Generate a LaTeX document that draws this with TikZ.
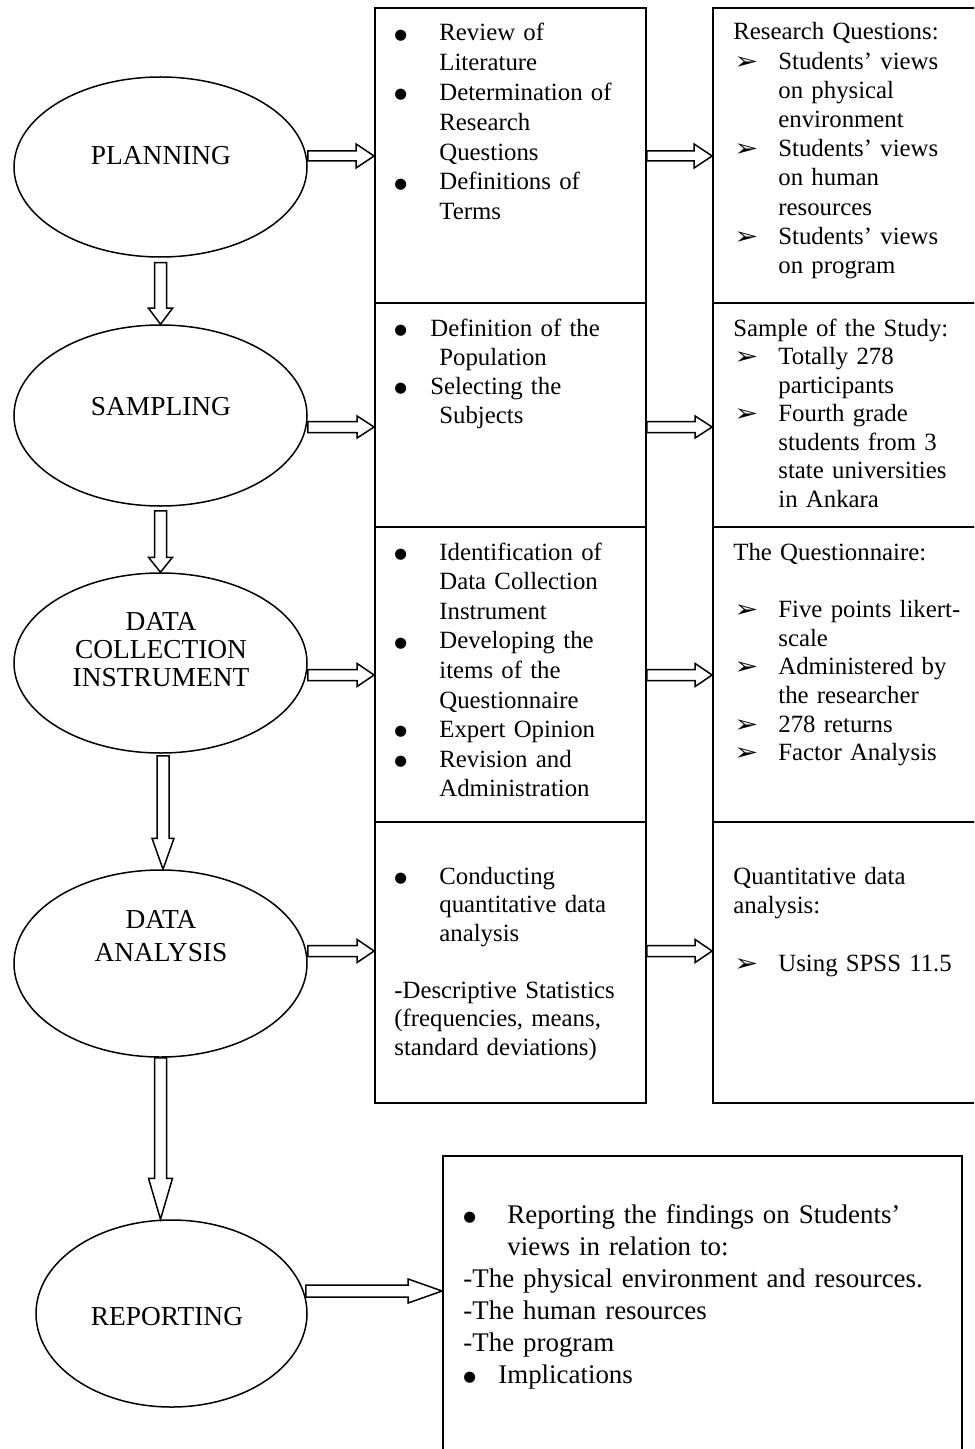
\documentclass[tikz,border=0pt]{standalone}
\usepackage{fontspec}
\setmainfont{Liberation Serif}
\newfontfamily\djv{DejaVu Sans}
\usetikzlibrary{shapes.geometric,calc,fit}
\newcommand\bigdot{\raisebox{0.9pt}{\djv\fontsize{7.3pt}{7.3pt}\selectfont ●}}
\newcommand\mybul[1][22.5pt]{\makebox[#1][l]{\bigdot}}
\newcommand\myind[1][22.5pt]{\hspace*{#1}}
\newcommand\myarr{\makebox[22.5pt][l]{\hspace{0.5pt}\scalebox{1.2}[1]{\djv\fontsize{12pt}{12pt}\selectfont ➢}}}
% vertical hollow block arrow: start, tip, head length, shaft half width, head half width
\newcommand\varrow[5]{\draw[blk] ($(#1)+(-#4,0)$) -- ($(#2)+(-#4,-#3)$) -- ($(#2)+(-#5,-#3)$) -- (#2) -- ($(#2)+(#5,-#3)$) -- ($(#2)+(#4,-#3)$) -- ($(#1)+(#4,0)$) -- cycle;}
% horizontal hollow block arrow
\newcommand\harrow[5]{\draw[blk] ($(#1)+(0,-#4)$) -- ($(#2)+(-#3,-#4)$) -- ($(#2)+(-#3,-#5)$) -- (#2) -- ($(#2)+(-#3,#5)$) -- ($(#2)+(-#3,#4)$) -- ($(#1)+(0,#4)$) -- cycle;}
\begin{document}
\begin{tikzpicture}[x=0.5pt,y=-0.5pt,
  box/.style={draw, line width=0.9pt, inner sep=0pt},
  ell/.style={draw, ellipse, line width=0.75pt, inner sep=0pt},
  blk/.style={draw, line width=0.75pt, line join=miter},
  lbl/.style={font=\fontsize{13.7pt}{#1}\selectfont, align=center, inner sep=0pt},
  lbl/.default=16pt,
  txt/.style={font=\fontsize{12.4pt}{#1}\selectfont, anchor=base west, inner sep=0pt, text width=150pt, align=left},
  rtxt/.style={font=\fontsize{13.45pt}{#1}\selectfont, anchor=base west, inner sep=0pt, text width=280pt, align=left}]
\clip (0,0) rectangle (974,1449);
\fill[white] (0,0) rectangle (974,1449);

% ellipses
\node[ell, minimum width=146.5pt, minimum height=90pt] (e1) at (160.5,167) {};
\node[ell, minimum width=146.5pt, minimum height=90.5pt] (e2) at (160.5,415.5) {};
\node[ell, minimum width=146.5pt, minimum height=90pt] (e3) at (160.5,663) {};
\node[ell, minimum width=146.5pt, minimum height=93.5pt] (e4) at (160.5,963.5) {};
\node[ell, minimum width=135.5pt, minimum height=93.5pt] (e5) at (171.5,1313.5) {};

\node[lbl] (e1t) at (161,156) {PLANNING};
\node[lbl] (e2t) at (161,407) {SAMPLING};
\node[lbl=14pt] (e3t) at (161,650) {DATA\\COLLECTION\\INSTRUMENT};
\node[lbl=16.5pt] (e4t) at (161,936.5) {DATA\\ANALYSIS};
\node[lbl] (e5t) at (167,1317) {REPORTING};

% boxes
\node[box, fit={(375,8) (646,303)}] (m1) {};
\node[box, fit={(375,303) (646,527)}] (m2) {};
\node[box, fit={(375,527) (646,822)}] (m3) {};
\node[box, fit={(375,822) (646,1103)}] (m4) {};
\node[box, fit={(713,8) (995,303)}] (q1) {};
\node[box, fit={(713,303) (995,527)}] (q2) {};
\node[box, fit={(713,527) (995,822)}] (q3) {};
\node[box, fit={(713,822) (995,1103)}] (q4) {};
\node[box, fit={(443,1156) (962,1480)}] (rp) {};

% down arrows
\coordinate (a1s) at ($(e1.south)+(0,5)$);
\varrow{a1s}{e2.north}{16}{6}{12}
\coordinate (a2s) at ($(e2.south)+(0,4)$);
\varrow{a2s}{e3.north}{15}{6}{12}
\coordinate (a3s) at ($(e3.south)+(2.5,2)$);
\coordinate (a3e) at ($(e4.north)+(2.5,0)$);
\varrow{a3s}{a3e}{31}{6}{11}
\coordinate (a4s) at (e4.south);
\coordinate (a4e) at (e4.south |- e5.north);
\varrow{a4s}{a4e}{41}{6}{12}

% right arrows
\coordinate (r1s) at ($(e1.east)+(0,-11)$);
\coordinate (r1e) at (m1.west |- r1s);
\harrow{r1s}{r1e}{18}{5}{12}
\coordinate (s1s) at (m1.east |- r1s);
\coordinate (s1e) at (q1.west |- r1s);
\harrow{s1s}{s1e}{18}{5}{12}

\coordinate (r2s) at ($(e2.east)+(0,11.5)$);
\coordinate (r2e) at (m2.west |- r2s);
\harrow{r2s}{r2e}{17}{5.5}{11}
\coordinate (s2s) at (m2.east |- r2s);
\coordinate (s2e) at (q2.west |- r2s);
\harrow{s2s}{s2e}{17}{5.5}{11}

\coordinate (r3s) at ($(e3.east)+(0,12)$);
\coordinate (r3e) at (m3.west |- r3s);
\harrow{r3s}{r3e}{17}{5.5}{11.5}
\coordinate (s3s) at (m3.east |- r3s);
\coordinate (s3e) at (q3.west |- r3s);
\harrow{s3s}{s3e}{17}{5.5}{11.5}

\coordinate (r4s) at ($(e4.east)+(0,-12.5)$);
\coordinate (r4e) at (m4.west |- r4s);
\harrow{r4s}{r4e}{17}{5.5}{11.5}
\coordinate (s4s) at (m4.east |- r4s);
\coordinate (s4e) at (q4.west |- r4s);
\harrow{s4s}{s4e}{17}{5.5}{11.5}

\coordinate (r5s) at ($(e5.east)+(-2,-22.5)$);
\coordinate (r5e) at (rp.west |- r5s);
\harrow{r5s}{r5e}{34}{6}{12}

% texts, middle column
\node[txt=14.9pt] (m1t) at (394,41) {\mybul Review of\\\myind Literature\\\mybul Determination of\\\myind Research\\\myind Questions\\\mybul Definitions of\\\myind Terms};
\node[txt=14.65pt] (m2t) at (394,336) {\mybul[18pt]Definition of the\\\myind Population\\\mybul[18pt]Selecting the\\\myind Subjects};
\node[txt=14.8pt] (m3t) at (394,560) {\mybul Identification of\\\myind Data Collection\\\myind Instrument\\\mybul Developing the\\\myind items of the\\\myind Questionnaire\\\mybul Expert Opinion\\\mybul Revision and\\\myind Administration};
\node[txt=14.25pt] (m4t) at (394,884) {\mybul Conducting\\\myind quantitative data\\\myind analysis\\\mbox{}\\-Descriptive Statistics\\(frequencies, means,\\standard deviations)};

% texts, right column
\node[txt=14.6pt] (q1t) at (733,40) {Research Questions:\\\myarr Students’ views\\\myind on physical\\\myind environment\\\myarr Students’ views\\\myind on human\\\myind resources\\\myarr Students’ views\\\myind on program};
\node[txt=14.25pt] (q2t) at (733,336) {Sample of the Study:\\\myarr Totally 278\\\myind participants\\\myarr Fourth grade\\\myind students from 3\\\myind state universities\\\myind in Ankara};
\node[txt=14.35pt] (q3t) at (733,560) {The Questionnaire:\\\mbox{}\\\myarr Five points likert-\\\myind scale\\\myarr Administered by\\\myind the researcher\\\myarr 278 returns\\\myarr Factor Analysis};
\node[txt=14.65pt] (q4t) at (733,884) {Quantitative data\\analysis:\\\mbox{}\\\myarr Using SPSS 11.5};

% report text
\node[rtxt=16pt] (rpt) at (463,1223) {\makebox[22pt][l]{\bigdot}Reporting the findings on Students’\\\hspace*{22pt}views in relation to:\\-The physical environment and resources.\\-The human resources\\-The program\\\makebox[17.5pt][l]{\bigdot}Implications};
\end{tikzpicture}
\end{document}
